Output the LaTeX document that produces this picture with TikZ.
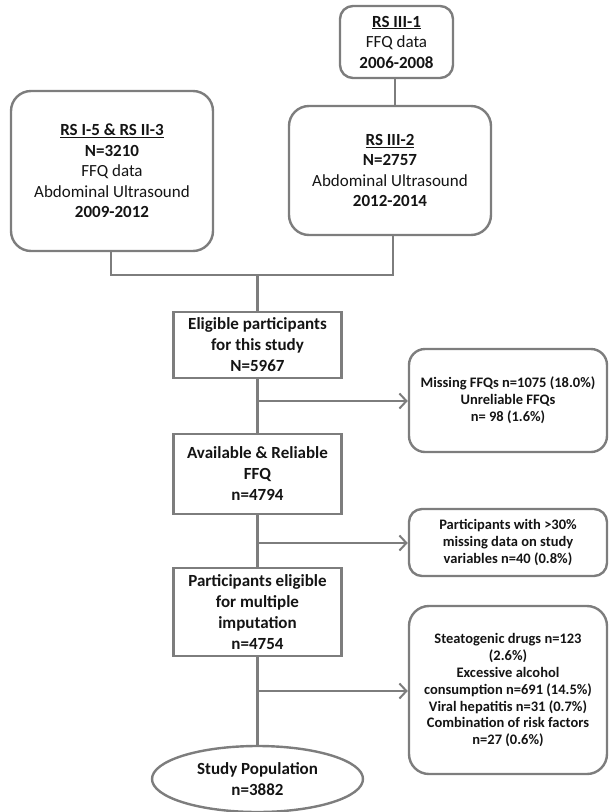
\documentclass[tikz,border=0pt]{standalone}
\usepackage{fontspec}
\setmainfont{Carlito}
\usetikzlibrary{arrows.meta,shapes.geometric}
\definecolor{edge}{RGB}{125,125,125}
\definecolor{ink}{RGB}{20,20,20}
\begin{document}
\begin{tikzpicture}[x=1pt,y=-1pt,
  box/.style={draw=edge,line width=2.4pt,align=center,inner sep=1pt,text=ink},
  topbox/.style={box,rounded corners=20pt,font=\fontsize{17}{20.5}\selectfont},
  mainbox/.style={box,font=\bfseries\fontsize{17}{21}\selectfont},
  sidebox/.style={box,rounded corners=16pt,font=\bfseries\fontsize{14.5}{17}\selectfont},
  link/.style={draw=edge,line width=2.4pt},
  arr/.style={link,-{Straight Barb[length=7pt,width=15pt,line width=2pt]}}]
\useasboundingbox (0,0) rectangle (610,812);
\node[topbox,rounded corners=13pt,minimum width=113pt,minimum height=72pt] (r31) at (396.5,42)
  {\textbf{\underline{RS III-1}}\\FFQ data\\\textbf{2006-2008}};
\node[topbox,minimum width=202pt,minimum height=160pt] (r15) at (112,171)
  {\textbf{\underline{RS I-5 \& RS II-3}}\\\textbf{N=3210}\\FFQ data\\Abdominal Ultrasound\\\textbf{2009-2012}};
\node[topbox,minimum width=202pt,minimum height=129pt] (r32) at (390,170.5)
  {\textbf{\underline{RS III-2}}\\\textbf{N=2757}\\Abdominal Ultrasound\\\textbf{2012-2014}};
\node[mainbox,minimum width=168pt,minimum height=66pt] (elig) at (257.5,345)
  {Eligible participants\\for this study\\N=5967};
\node[mainbox,minimum width=168pt,minimum height=80pt] (avail) at (257.5,474)
  {Available \& Reliable\\FFQ\\n=4794};
\node[mainbox,minimum width=168pt,minimum height=88pt] (pemi) at (257.5,612)
  {Participants eligible\\for multiple\\imputation\\n=4754};
\node[box,ellipse,minimum width=211pt,minimum height=66pt,inner sep=0pt,font=\bfseries\fontsize{17}{21}\selectfont] (study) at (257.5,779)
  {Study Population\\n=3882};
\node[sidebox,minimum width=198pt,minimum height=103pt] (miss) at (508,400.5)
  {Missing FFQs n=1075 (18.0\%)\\Unreliable FFQs\\n= 98 (1.6\%)};
\node[sidebox,rounded corners=13pt,minimum width=198pt,minimum height=67pt] (m30) at (508,542.5)
  {Participants with >30\%\\missing data on study\\variables n=40 (0.8\%)};
\node[sidebox,rounded corners=20pt,minimum width=198pt,minimum height=168pt] (ster) at (508,690)
  {Steatogenic drugs n=123\\(2.6\%)\\Excessive alcohol\\consumption n=691 (14.5\%)\\Viral hepatitis n=31 (0.7\%)\\Combination of risk factors\\n=27 (0.6\%)};
\coordinate (j) at (257.5,275);
\coordinate (a1) at (257.5,401);
\coordinate (a2) at (257.5,543);
\coordinate (a3) at (257.5,691);
\draw[link] (r31.south -| 395,0) -- (r32.north -| 395,0);
\draw[link] ([xshift=-1pt]r15.south) |- (j) -| ([xshift=3pt]r32.south);
\draw[link] (j) -- (elig.north);
\draw[link] (elig.south) -- (avail.north);
\draw[link] (avail.south) -- (pemi.north);
\draw[link] (pemi.south) -- (study.north);
\draw[arr] (a1) -- (miss.west |- a1);
\draw[arr] (a2) -- (m30.west |- a2);
\draw[arr] (a3) -- (ster.west |- a3);
\end{tikzpicture}
\end{document}
